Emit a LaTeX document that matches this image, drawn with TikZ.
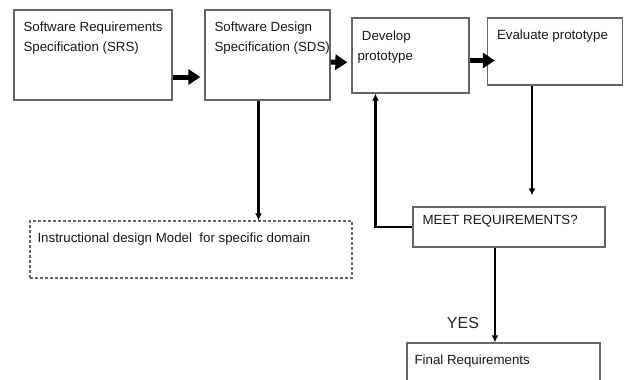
\documentclass[tikz,border=0pt]{standalone}
\usepackage{fontspec}
\setmainfont{Liberation Sans}
\usetikzlibrary{arrows.meta,positioning}
\tikzset{
  box/.style={draw=black!60, line width=1.3pt, inner sep=0pt},
  boxtext/.style={anchor=north west, inner sep=0pt, align=left, text=black!90,
    font=\fontsize{13.3}{20.5}\selectfont, xshift=10pt, yshift=-12pt},
  fat/.style={line width=5pt, -{Triangle[length=12pt,width=15pt]}},
  link/.style={line width=2.2pt, -{Latex[length=7pt,width=7pt]}},
}
\begin{document}
\begin{tikzpicture}[x=1pt,y=-1pt]
  \clip (0,0) rectangle (624,380);
  \node[box, minimum width=158pt, minimum height=90pt,
    label={[boxtext]north west:{Software Requirements\\Specification (SRS)}}] (srs) at (93,55) {};
  \node[box, minimum width=125pt, minimum height=90pt,
    label={[boxtext]north west:{Software Design\\Specification (SDS)}}] (sds) at (267.5,55) {};
  \node[box, minimum width=117pt, minimum height=75pt,
    label={[boxtext, xshift=-4pt, yshift=-1pt]north west:{\,\,Develop\\prototype}}] (dev) at (410.5,55.5) {};
  \node[box, minimum width=135pt, minimum height=67pt,
    label={[boxtext]north west:{Evaluate prototype}}] (eval) at (555,51.5) {};
  \node[box, minimum width=192pt, minimum height=40pt,
    label={[boxtext, yshift=3pt]north west:{MEET REQUIREMENTS?}}] (meet) at (509,227) {};
  \node[box, dash pattern=on 3pt off 2pt, minimum width=322pt, minimum height=57pt,
    label={[boxtext, xshift=-2pt]north west:{Instructional design Model\ \ for specific domain}}] (idm) at (191,249.5) {};
  \node[box, minimum width=193pt, minimum height=60pt,
    label={[boxtext, xshift=-2pt]north west:{Final Requirements}}] (final) at (503.5,373) {};
  \node[font=\fontsize{16}{16}\selectfont, text=black!85] (yes) at (463,323) {YES};
  \draw[fat, shorten >=4pt] ([yshift=-22pt]srs.east) -- ([yshift=-22pt]sds.west);
  \draw[fat, shorten >=4pt] ([yshift=-7pt]sds.east) -- ([yshift=-7pt]dev.west);
  \draw[fat] ([yshift=-5pt]dev.east) -- ([xshift=8pt,yshift=-5pt]dev.east -| eval.west);
  \draw[link, shorten >=11pt] ([xshift=-23pt]eval.south) -- ([xshift=-23pt]eval.south |- meet.north);
  \draw[link] (meet.west) -| ([xshift=-35pt]dev.south);
  \draw[link] ([xshift=-9pt]sds.south) -- ([xshift=-9pt]sds.south |- idm.north);
  \draw[link] ([xshift=-14pt]meet.south) -- ([xshift=-14pt]meet.south |- final.north);
\end{tikzpicture}
\end{document}
